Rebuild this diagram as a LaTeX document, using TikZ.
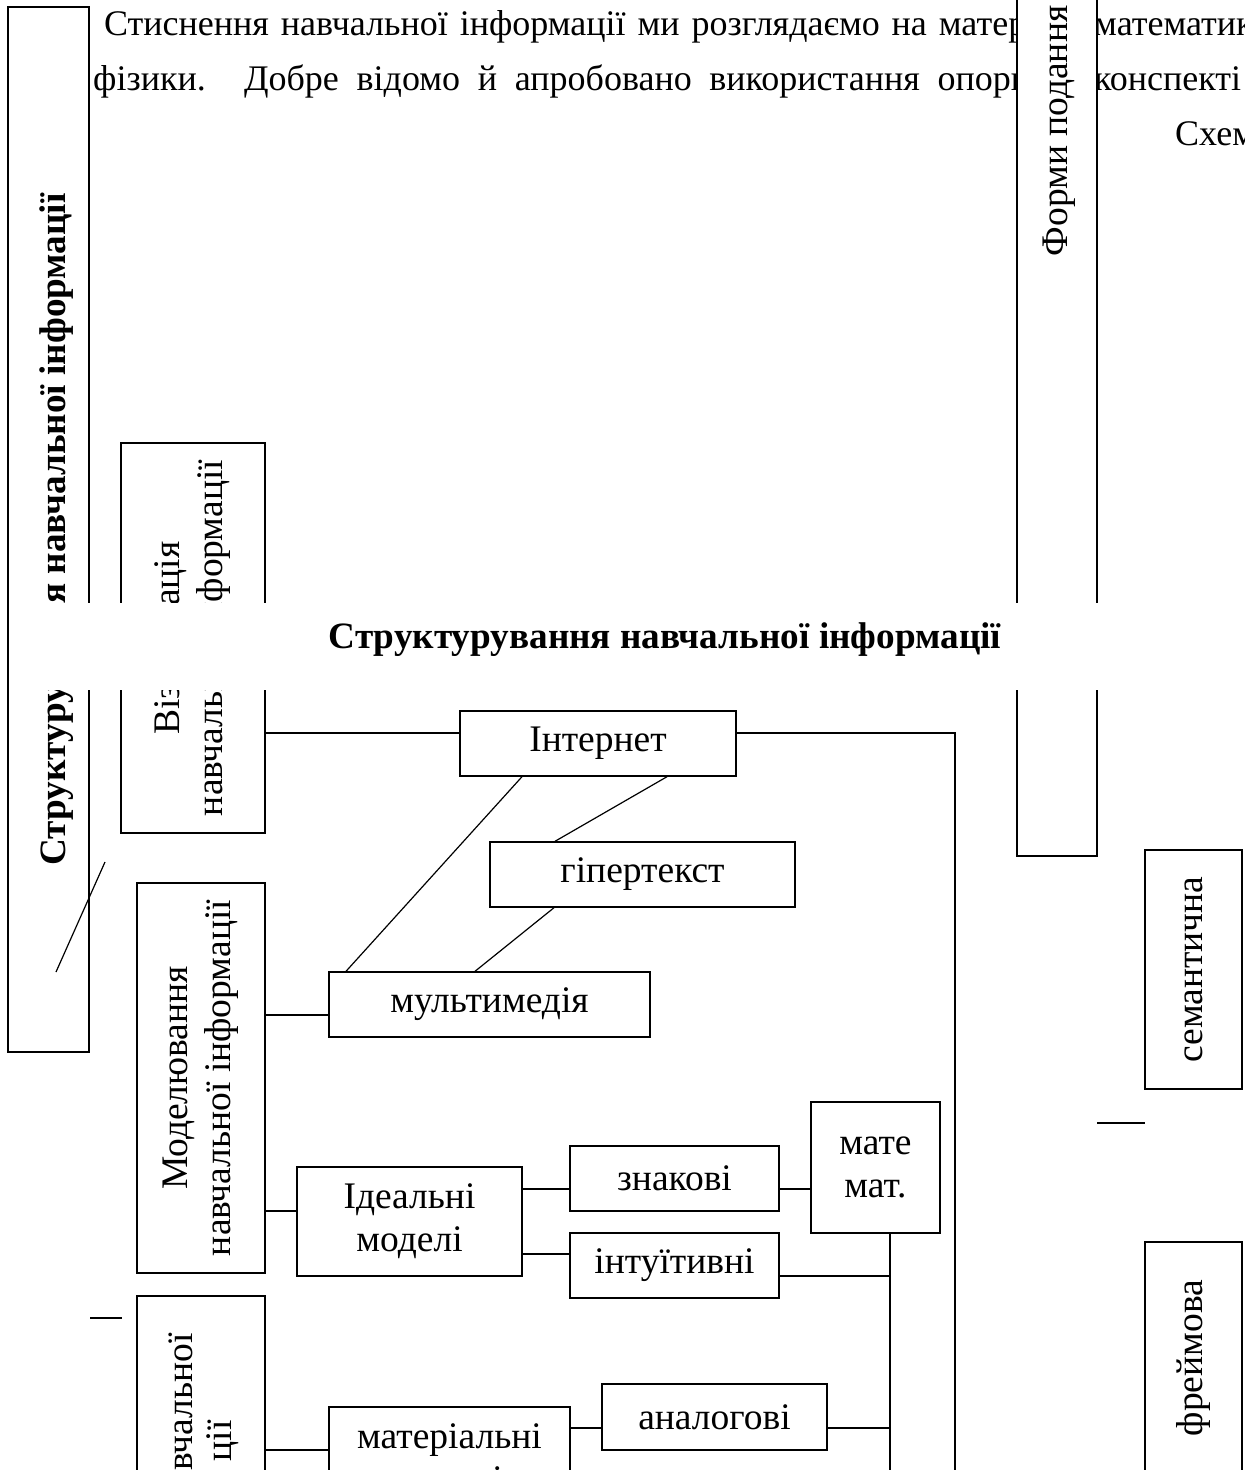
\documentclass[tikz,border=0pt]{standalone}
\usepackage{fontspec}
\setmainfont{Liberation Serif}
\usepackage{tikz}

\newcommand{\schemefont}{\fontsize{37.5}{43}\selectfont}
\newcommand{\schemebold}{\fontsize{37.2}{43}\selectfont\bfseries}
\newcommand{\pagefont}{\fontsize{36}{54}\selectfont}

\begin{document}
\begin{tikzpicture}[x=1pt, y=-1pt,
    box/.style={draw, line width=1.4pt, fill=white, inner sep=0pt, align=center, font=\schemefont},
    vlabel/.style={rotate=90, align=center, inner sep=0pt, font=\schemefont},
    para/.style={anchor=base west, inner sep=0pt, font=\pagefont},
    link/.style={line width=1.2pt}]
\useasboundingbox (0,0) rectangle (1245,1470);

% text of the page behind the scheme
\node[para] (par1) at (104,35) {\makebox[922pt][s]{Стиснення навчальної інформації ми розглядаємо на матер}};
\node[para] (par2) at (93,90) {\makebox[937pt][s]{фізики. Добре відомо й апробовано використання опорн}};
\node[para] (par3) at (1094,35) {математик};
\node[para] (par4) at (1094,90) {конспекті};
\node[para] (par5) at (1175,145) {Схем};

% left column
\node[box, minimum width=81, minimum height=1045] (outer) at (48.5,529.5) {};
\node[vlabel, font=\schemebold] (outer-t) at (57,529.5) {Структурування навчальної інформації};
\node[box, minimum width=144, minimum height=390] (viz) at (193,638) {};
\node[vlabel] (viz-t) at (193,638) {Візуалізація\\навчальної інформації};
\node[box, minimum width=128, minimum height=390] (model) at (201,1078) {};
\node[vlabel] (model-t) at (201,1078) {Моделювання\\навчальної інформації};
\node[box, minimum width=128, minimum height=390] (stysn) at (201,1491) {};
\node[vlabel, anchor=east] (stysn-a) at (181,1333) {вчальної};
\node[vlabel, anchor=east] (stysn-b) at (223,1420) {ції};

% right column
\node[box, minimum width=80, minimum height=876] (form) at (1057,418) {};
\node[vlabel] (form-t) at (1059,131) {Форми подання};
\node[box, minimum width=97, minimum height=239] (sem) at (1193.5,969.5) {};
\node[vlabel] (sem-t) at (1193.5,969.5) {семантична};
\node[box, minimum width=97, minimum height=232] (frame) at (1193.5,1358) {};
\node[vlabel] (frame-t) at (1193.5,1358) {фреймова};

% middle
\node[box, minimum width=276, minimum height=65] (inet) at (598,743.5) {Інтернет};
\node[box, minimum width=305, minimum height=65] (hyper) at (642.5,874.5) {гіпертекст};
\node[box, minimum width=321, minimum height=65] (multi) at (489.5,1004.5) {мультимедія};
\node[box, minimum width=225, minimum height=109] (ideal) at (409.5,1221.5) {Ідеальні\\моделі};
\node[box, minimum width=209, minimum height=65] (znak) at (674.5,1178.5) {знакові};
\node[box, minimum width=209, minimum height=65] (intu) at (674.5,1265.5) {інтуїтивні};
\node[box, minimum width=129, minimum height=131] (mate) at (875.5,1167.5) {мате\\мат.};
\node[box, minimum width=225, minimum height=66] (analog) at (714.5,1417) {аналогові};
\node[box, minimum width=241, minimum height=109] (mat) at (449.5,1461.5) {матеріальні\\моделі};

\coordinate (rail) at (955,1480);
\coordinate (mrail) at (890,1480);
\coordinate (diagA) at (56,972);
\coordinate (diagB) at (105,862);
\coordinate (dashA) at (90,1318);
\coordinate (dashB) at (122,1318);
\coordinate (dashC) at (1097,1123);
\coordinate (dashD) at (1145,1123);

% connectors
\draw[link] (viz.east |- 0,733) -- (inet.west |- 0,733);
\draw[link] (inet.east |- 0,733) -| (rail);
\draw[link] (522,0 |- inet.south) -- (346,0 |- multi.north);
\draw[link] (667,0 |- inet.south) -- (555,0 |- hyper.north);
\draw[link] (554,0 |- hyper.south) -- (475,0 |- multi.north);
\draw[link] (model.east |- 0,1015) -- (multi.west |- 0,1015);
\draw[link] (model.east |- 0,1211) -- (ideal.west |- 0,1211);
\draw[link] (ideal.east |- 0,1189) -- (znak.west |- 0,1189);
\draw[link] (ideal.east |- 0,1254) -- (intu.west |- 0,1254);
\draw[link] (znak.east |- 0,1189) -- (mate.west |- 0,1189);
\draw[link] (890,0 |- mate.south) -- (mrail);
\draw[link] (intu.east |- 0,1276) -- (mrail |- 0,1276);
\draw[link] (analog.east |- 0,1428) -- (mrail |- 0,1428);
\draw[link] (mat.east |- 0,1428) -- (analog.west |- 0,1428);
\draw[link] (stysn.east |- 0,1450) -- (mat.west |- 0,1450);
\draw[link] (diagA) -- (diagB);
\draw[link] (dashA) -- (dashB);
\draw[link] (dashC) -- (dashD);

% title band
\fill[white] (10,603) rectangle (1245,690);
\node[font=\schemebold, inner sep=0pt] (title) at (665,640) {Структурування навчальної інформації};
\end{tikzpicture}
\end{document}
